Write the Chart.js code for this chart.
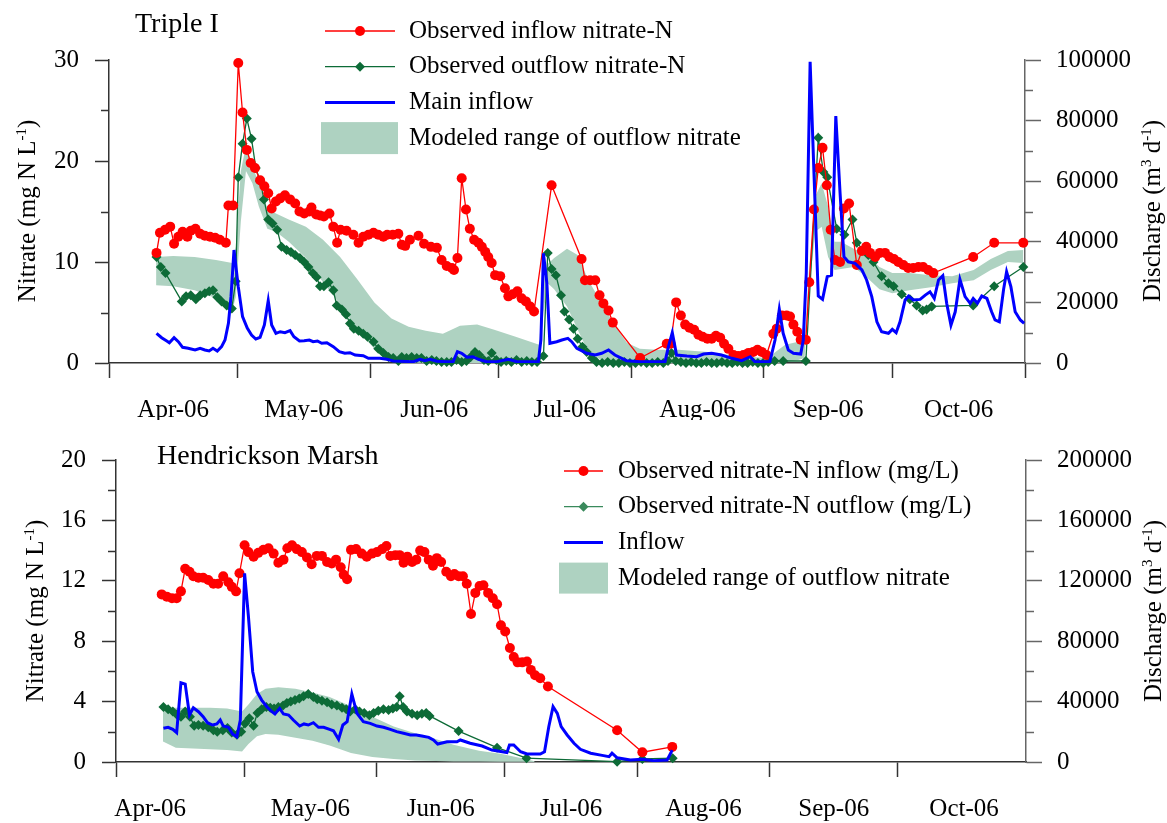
<!DOCTYPE html>
<html lang="en">
<head>
<meta charset="UTF-8">
<title>Nitrate and discharge</title>
<script src="https://cdn.jsdelivr.net/npm/chart.js"></script>
<style>
  body { margin: 0; background: #fff; }
  .panel { position: absolute; left: 0; }
</style>
</head>
<body>
<div class="panel" style="top:0"><canvas id="topChart" width="1167" height="420"></canvas></div>
<div class="panel" style="top:420px"><canvas id="bottomChart" width="1167" height="403"></canvas></div>
<script>
// days counted from 1 Apr 2006
const monthStarts = [0, 30, 61, 91, 122, 153, 183, 214];
const monthLabels = ['Apr-06', 'May-06', 'Jun-06', 'Jul-06', 'Aug-06', 'Sep-06', 'Oct-06'];
const topLabelDays = [15, 45.5, 76, 106.5, 137.5, 168, 198.5];
const bottomLabelDays = [8, 45.5, 76, 106.5, 137.5, 168, 198.5];

// ---- Triple I ----
const tInDays = [11.1,11.9,13.1,14.3,15.2,16.2,17.2,18.3,19.1,20.2,21.3,22.4,23.6,24.8,25.9,27.3,27.9,29.0,30.2,31.2,32.2,33.1,34.1,35.3,36.3,37.2,38.0,39.0,40.0,41.1,42.3,43.5,44.5,45.6,46.8,47.3,48.4,49.3,50.2,51.5,52.4,53.3,54.1,55.5,57.1,58.3,59.4,60.6,61.8,62.9,64.1,65.0,66.3,67.6,68.4,69.2,70.3,72.3,73.6,75.2,76.6,77.7,78.9,80.1,80.6,81.4,82.4,83.4,84.3,85.3,86.3,87.1,87.9,88.6,89.4,90.2,91.4,92.5,93.3,94.3,95.4,96.4,97.4,98.4,99.3,103.4,110.4,111.2,112.4,113.6,114.6,115.5,116.7,117.7,124.1,130.3,131.2,132.5,133.6,134.6,135.6,136.7,137.7,138.7,139.8,140.8,141.8,142.8,143.7,144.7,145.9,147.0,148.2,149.4,150.5,151.5,152.5,153.6,155.2,156.0,157.2,158.3,159.1,159.9,160.8,161.6,162.8,163.6,164.7,165.7,166.7,167.7,168.6,169.6,170.8,171.7,172.9,174.7,175.9,176.9,177.8,179.0,180.1,181.3,182.3,183.4,184.4,185.6,186.7,187.9,189.1,190.2,191.4,192.6,201.9,206.8,213.6];
const tInNO3 = [10.9,12.9,13.2,13.5,11.8,12.5,13.0,12.5,13.1,13.3,12.8,12.6,12.5,12.4,12.2,11.9,15.6,15.6,29.7,24.8,21.1,19.8,19.3,18.1,17.5,16.8,15.3,16.0,16.3,16.6,16.2,15.8,15.0,14.8,15.0,15.4,14.7,14.6,14.5,14.8,13.5,11.9,13.2,13.1,12.7,11.9,12.5,12.7,12.9,12.7,12.5,12.7,12.7,12.8,11.7,11.6,12.2,12.6,11.8,11.5,11.4,10.2,9.6,9.4,9.2,10.4,18.3,15.2,13.3,12.2,11.9,11.5,11.0,10.5,9.9,8.7,8.6,7.4,6.6,6.8,7.1,6.4,6.1,5.6,5.1,17.6,10.3,8.2,8.2,8.2,6.7,5.9,5.2,4.0,0.5,1.9,1.9,6.0,4.7,3.8,3.5,3.3,2.8,2.6,2.4,2.4,2.7,2.5,1.9,1.4,0.8,0.7,0.8,1.0,1.1,1.3,1.1,0.8,2.9,3.4,4.7,4.7,4.6,3.8,3.1,2.3,2.3,8.0,15.2,19.3,21.3,17.6,13.2,10.2,10.0,15.3,15.8,9.7,11.1,11.5,10.9,10.5,10.9,10.9,10.5,10.3,10.0,9.7,9.4,9.4,9.5,9.5,9.2,8.9,10.5,11.9,11.9];

const tOutDays = [11.1,12.1,13.2,17.0,18.0,19.1,20.3,21.3,22.4,23.4,24.3,25.3,26.3,27.5,28.7,29.6,30.2,31.2,32.2,33.3,34.3,35.3,36.2,37.2,38.2,39.3,40.3,41.5,42.5,43.5,44.6,45.6,46.6,47.6,48.5,49.3,50.2,51.3,52.4,53.2,54.4,55.4,56.3,57.2,58.3,59.4,60.4,61.8,62.9,64.1,65.3,66.4,67.6,68.4,69.5,70.7,71.9,73.0,74.2,75.4,76.5,77.7,78.9,80.0,81.2,82.4,83.5,84.5,85.5,86.5,87.6,88.6,89.4,90.5,91.6,92.8,94.0,95.2,96.4,97.6,98.8,100.0,101.5,102.5,103.4,104.4,105.6,106.4,107.5,108.5,109.5,110.6,111.6,112.8,113.9,115.2,116.5,117.8,119.1,120.4,121.7,123.0,124.3,125.6,126.9,128.2,129.5,130.6,131.4,132.4,133.6,134.8,136.0,137.2,138.4,139.6,140.8,142.0,143.2,144.4,145.6,146.8,148.0,149.2,150.4,151.6,152.8,154.0,155.5,157.5,162.8,165.7,166.9,167.8,170.0,171.8,173.7,174.7,176.2,177.4,178.6,180.5,182.1,183.3,185.2,187.1,188.7,190.1,191.0,192.2,201.9,206.8,213.6];
const tOutNO3 = [10.5,9.5,8.9,6.1,6.6,6.7,6.3,6.7,6.9,7.1,7.2,6.5,6.1,5.7,5.4,8.1,18.4,21.7,24.2,22.2,19.3,18.0,16.2,14.2,13.8,13.2,11.5,11.2,11.0,10.7,10.4,10.0,9.5,8.9,8.5,7.6,7.6,8.0,7.2,5.7,5.3,4.8,3.9,3.4,3.2,2.9,2.6,2.1,1.4,1.0,0.6,0.5,0.2,0.6,0.5,0.6,0.5,0.5,0.2,0.3,0.2,0.1,0.1,0.1,0.3,0.1,0.2,0.6,1.1,0.8,0.3,0.2,1.0,0.3,0.1,0.2,0.1,0.3,0.1,0.2,0.1,0.1,0.7,10.9,9.3,8.7,6.7,5.1,4.3,3.4,2.4,1.6,1.1,0.5,0.1,0.0,0.1,0.0,0.0,0.1,0.0,0.0,0.1,0.0,0.0,0.1,0.0,0.2,1.0,0.2,0.1,0.0,0.1,0.0,0.0,0.1,0.0,0.0,0.1,0.0,0.0,0.1,0.0,0.0,0.1,0.0,0.0,0.1,0.2,0.2,0.2,22.3,18.9,18.4,13.3,12.7,14.2,11.9,11.2,10.7,10.0,8.6,7.9,7.6,6.8,6.3,5.7,5.2,5.3,5.6,5.7,7.6,9.5];

const tFlowDays = [11.1,12.3,13.5,14.1,15.2,16.2,17.2,18.5,20.1,21.3,22.4,23.4,24.3,25.3,26.3,27.1,27.9,28.5,29.2,30.2,31.2,32.3,33.3,34.3,35.3,36.3,37.2,38.0,39.0,40.0,41.1,42.3,43.2,44.5,45.6,46.8,47.7,48.7,49.7,50.9,52.4,53.8,55.1,56.3,57.5,59.4,60.6,63.3,64.9,66.4,71.1,72.7,73.8,75.0,76.6,78.9,80.4,81.4,82.4,83.6,85.0,86.3,88.2,90.6,93.3,95.3,100.3,100.9,101.5,102.3,103.0,104.6,105.8,107.2,108.1,109.3,110.4,111.6,113.6,115.1,116.7,118.2,120.9,124.1,127.2,129.9,130.7,131.6,132.6,135.0,137.3,138.9,140.8,143.1,145.5,147.8,149.8,150.9,154.4,155.6,156.6,157.5,158.7,159.9,161.6,162.2,162.9,163.8,164.7,165.7,166.7,167.8,168.8,169.8,170.8,171.7,172.7,174.3,175.9,177.0,178.2,179.4,180.5,182.1,183.0,183.9,184.8,186.0,186.8,187.9,189.5,190.7,191.8,192.8,193.8,194.8,195.7,196.7,197.7,198.8,200.0,201.2,201.9,202.9,203.9,205.1,206.2,207.0,208.0,209.0,209.7,210.7,211.7,212.9,213.8];
const tFlow = [9800,8350,7260,6700,8350,7030,5180,4850,4290,4850,4290,3960,4850,3960,5400,7590,13100,21900,37300,25200,15300,11500,9240,7920,8480,12540,20560,12540,9800,10330,10000,10660,8680,7260,7360,7590,7030,7260,6500,6700,5380,3730,3200,3400,2640,2420,1550,1550,1220,660,430,1220,760,1220,600,430,430,3730,3200,1880,2080,1220,430,430,1220,430,430,7590,36200,26300,6500,7030,7590,8150,7030,4850,4060,3200,2640,3200,4290,2640,760,430,430,430,5400,10000,2640,2310,2080,2970,3200,2640,1550,760,2080,430,430,7590,17700,9800,4290,3200,2970,7590,29600,99400,62600,22100,21000,28500,29000,81500,56000,35100,33400,32900,30700,27400,21900,13600,10300,9800,11100,10000,13600,20800,22100,20800,21000,22400,23500,21300,27400,28800,19700,12500,16900,27600,21900,19700,21300,19700,22100,21300,16900,14200,13600,24300,30100,25200,16900,14200,13100];

const tBandDays = [11,15,20,25,28.8,29.6,30.8,32,33.5,35,37,39,42,46,50,54,58,62,66,70,74,78,82,86,90,95,100.5,101.5,102.5,104,107,109.5,112,115,118,121,124,128,133,140,145,150,154,156,158,161,162.5,163.5,165,166.5,168,169.5,171,174,177,180,183,187,192,197,202,206,210,213.6];
const tBandLow = [7.7,7.6,7.2,6.4,5.2,6.5,14,19,17.8,15.5,13.3,13,12,10.4,8,5.8,3.3,1.4,0.3,0.05,0,0,0,0,0,0,0,5,7.9,7.3,5.6,3.3,1.1,0.3,0.05,0,0,0,0,0,0,0,0,0,0.1,0.3,0.5,7,13,13.5,10.5,9.2,9.3,9.5,8.5,7.3,6.9,7.2,7.5,7.9,8.2,9.2,10,9.9];
const tBandHigh = [10.5,10.6,10.5,10.2,9.9,11.5,19,21.5,19.5,17.8,15.3,14.8,14.2,13.5,12.2,10.5,8.3,6,4.4,3.6,3.2,2.9,3.7,3.8,3.3,2.6,1.8,8,9.8,10.4,11.3,10.7,8.2,6,3.8,2,1.4,1.3,1.3,1.1,0.8,0.6,0.5,1.2,1.8,2.1,2.2,9,16.5,17.8,15.5,12,12,11.3,10.7,9.5,8.9,8.9,8.7,8.6,9.2,10.3,11.1,11.2];

// ---- Hendrickson Marsh ----
const bInDays = [10.7,11.9,13.1,14.2,15.2,16.2,17.2,18.1,19.3,20.4,21.6,22.8,23.9,25.1,26.3,27.1,28.1,28.9,30.1,31.0,32.2,33.3,34.5,35.7,36.9,38.0,39.2,40.1,41.2,42.3,43.5,44.7,45.8,47.0,48.2,49.4,50.5,51.5,52.6,53.3,54.1,55.0,56.2,57.5,58.7,59.9,61.1,62.3,63.3,64.2,65.4,66.4,67.3,68.2,69.3,70.3,71.2,72.2,73.2,74.2,75.1,76.1,77.3,78.4,79.2,80.2,81.2,82.1,83.1,84.1,85.1,86.0,87.1,88.2,89.2,90.1,91.1,92.2,93.1,94.0,95.1,96.2,97.1,98.1,99.3,101.1,117.3,123.2,130.2];
const bInNO3 = [11.1,10.95,10.85,10.85,11.3,12.8,12.6,12.3,12.2,12.2,12.05,11.8,11.8,12.3,11.9,11.6,11.3,12.5,14.35,13.9,13.6,13.85,14.05,14.15,13.8,13.2,13.4,14.15,14.35,14.1,13.9,13.55,13.1,13.65,13.65,13.25,13.15,13.4,12.9,12.4,12.1,14.05,14.1,13.8,13.6,13.8,13.9,14.1,14.3,13.65,13.7,13.7,13.2,13.6,13.25,13.4,14.0,13.9,13.4,13.0,13.5,13.25,12.6,12.3,12.45,12.3,12.3,11.8,9.8,11.2,11.65,11.7,11.2,10.85,10.45,9.05,8.65,7.55,6.95,6.6,6.6,6.65,6.1,5.75,5.55,5.0,2.1,0.65,1.0];

const bOutDays = [11.1,12.2,13.3,14.2,15.2,16.2,17.3,18.3,19.3,20.4,21.6,22.8,23.7,25.0,26.1,27.1,28.3,29.3,30.2,31.2,32.2,33.1,34.1,35.2,36.1,37.0,38.0,39.1,40.0,40.9,41.9,42.9,43.9,45.0,46.2,47.1,48.2,49.4,50.5,51.7,52.9,53.9,54.8,56.0,57.0,58.1,59.3,60.3,61.4,62.6,63.8,64.8,65.7,66.4,67.2,68.1,69.3,70.5,71.6,72.6,73.4,80.2,89.2,96.1,117.3,123.2,130.3];
const bOutNO3 = [3.65,3.5,3.35,3.15,3.0,3.35,3.0,2.4,2.45,2.4,2.3,2.1,2.0,2.1,2.25,1.95,1.8,2.0,2.55,2.9,2.4,3.25,3.5,3.65,3.6,3.55,3.65,3.75,3.9,4.0,4.1,4.2,4.35,4.5,4.3,4.15,4.05,3.95,3.8,3.75,3.6,3.5,3.35,3.5,3.35,3.25,3.1,3.25,3.4,3.5,3.45,3.55,3.65,4.35,3.65,3.35,3.2,3.1,3.2,3.25,3.05,2.05,0.95,0.25,0.02,0.2,0.25];

const bFlowDays = [11.1,12.2,13.3,14.2,15.2,16.2,17.2,18.1,19.3,20.4,21.4,22.6,23.6,24.4,25.1,26.3,27.3,28.3,29.1,30.1,31.0,32.0,33.0,34.1,35.3,36.5,37.2,38.3,39.2,40.4,41.5,43.0,44.0,45.0,46.2,47.4,48.6,50.0,50.9,52.1,53.1,54.1,55.2,56.4,57.9,59.5,61.1,62.6,64.2,65.7,67.3,68.9,70.3,71.6,73.2,74.3,75.3,77.5,79.8,80.6,82.9,85.7,88.0,90.4,91.5,92.1,93.1,94.7,96.2,98.2,99.3,100.3,101.3,102.3,103.3,104.2,105.6,107.2,108.7,111.1,113.8,115.4,116.1,117.3,120.4,123.2,125.9,129.0,130.2];
const bFlow = [22300,23000,21600,19400,52500,51600,31100,35900,33300,30000,26000,24500,25200,27800,23800,23000,18500,16700,27800,124900,96200,59800,46500,41000,36600,33300,31800,35500,31800,31100,27800,23800,25200,24500,26000,23000,23000,21600,20700,15000,24500,26700,45000,32200,26700,25600,23800,23000,21600,20100,19000,17900,17900,17200,16300,14600,11900,13400,13400,14600,12400,10600,7900,6800,6200,11300,11300,6800,5300,5300,5300,6800,23400,36600,32200,23400,17900,12400,8400,5800,4400,3500,5800,2800,1300,1800,900,1300,7900];

const bBandDays = [11,14,18,22,26,29.5,31,33,35,38,42,46,50,55,60,65,70,75,79,85,90,95,98];
const bBandLow = [1.35,0.95,0.9,0.85,0.8,0.7,1.2,1.7,1.85,1.8,1.6,1.4,1.1,0.6,0.33,0.2,0.1,0.06,0.04,0.03,0.02,0.01,0];
const bBandHigh = [3.6,3.6,3.6,3.6,3.55,3.35,3.8,4.5,4.85,4.95,4.85,4.6,4.3,3.7,3.0,2.35,1.9,1.5,1.15,0.75,0.55,0.25,0.05];

const FONT = "'Liberation Serif', 'Times New Roman', serif";
const AXIS = '#333';
const AXIS_R = '#666';
const RED = '#ff0000';
const GREEN = '#0d6b37';
const BLUE = '#0000ff';
const BAND = 'rgb(174,210,193)';

function pts(xs, ys) {
    return xs.map((x, i) => ({ x: x, y: ys[i] }));
}

function drawRich(ctx, parts, cx, cy, size) {
    const base = size + 'px ' + FONT;
    const sup = Math.round(size * 0.6) + 'px ' + FONT;
    let w = 0;
    parts.forEach(p => { ctx.font = p[1] ? sup : base; w += ctx.measureText(p[0]).width; });
    ctx.save();
    ctx.translate(cx, cy);
    ctx.rotate(-Math.PI / 2);
    ctx.textAlign = 'left';
    ctx.textBaseline = 'alphabetic';
    let x = -w / 2;
    parts.forEach(p => {
        ctx.font = p[1] ? sup : base;
        ctx.fillText(p[0], x, p[1] ? size * 0.33 - size * 0.38 : size * 0.33);
        x += ctx.measureText(p[0]).width;
    });
    ctx.restore();
}

// titles, legend and axis titles
const decor = {
    id: 'decor',
    afterDraw(chart, args, o) {
        const ctx = chart.ctx;
        ctx.save();
        ctx.fillStyle = '#000';
        ctx.textAlign = 'left';
        ctx.textBaseline = 'alphabetic';
        ctx.font = '28px ' + FONT;
        ctx.fillText(o.title, o.titleX, o.titleY);

        const L = o.legend;
        L.items.forEach((it, i) => {
            const y = L.y0 + i * L.dy;
            if (it.box) {
                ctx.fillStyle = it.color;
                ctx.fillRect(L.boxX0, y - L.boxH / 2, L.boxX1 - L.boxX0, L.boxH);
            } else {
                ctx.strokeStyle = it.color;
                ctx.lineWidth = it.width;
                ctx.beginPath();
                ctx.moveTo(L.lineX0, y);
                ctx.lineTo(L.lineX1, y);
                ctx.stroke();
                const cx = (L.lineX0 + L.lineX1) / 2;
                ctx.fillStyle = it.color;
                if (it.marker === 'circle') {
                    ctx.beginPath();
                    ctx.arc(cx, y, 5, 0, Math.PI * 2);
                    ctx.fill();
                } else if (it.marker === 'diamond') {
                    ctx.beginPath();
                    ctx.moveTo(cx, y - 5); ctx.lineTo(cx + 5, y); ctx.lineTo(cx, y + 5); ctx.lineTo(cx - 5, y);
                    ctx.closePath();
                    ctx.fill();
                }
            }
            ctx.fillStyle = '#000';
            ctx.font = '25px ' + FONT;
            ctx.textBaseline = 'middle';
            ctx.fillText(it.text, L.textX, y);
        });

        ctx.fillStyle = '#000';
        drawRich(ctx, [['Nitrate (mg N L', 0], ['-1', 1], [')', 0]], o.leftTitleX, o.titleMidY, 25);
        drawRich(ctx, [['Discharge (m', 0], ['3', 1], [' d', 0], ['-1', 1], [')', 0]], o.rightTitleX, o.titleMidY, 25);
        ctx.restore();
    }
};

// short unlabeled ticks between the labeled ones
const minorTicks = {
    id: 'minorTicks',
    afterDraw(chart, args, o) {
        const ctx = chart.ctx;
        ctx.save();
        ctx.lineWidth = 1.5;
        o.list.forEach(m => {
            const s = chart.scales[m.axis];
            ctx.strokeStyle = m.color;
            m.values.forEach(v => {
                const y = Math.round(s.getPixelForValue(v)) + 0.5;
                ctx.beginPath();
                if (s.position === 'left') { ctx.moveTo(s.right - 8, y); ctx.lineTo(s.right, y); }
                else { ctx.moveTo(s.left, y); ctx.lineTo(s.left + 8, y); }
                ctx.stroke();
            });
        });
        ctx.restore();
    }
};

function makeChart(id, c) {
    const tickFont = { family: FONT, size: 25 };
    return new Chart(document.getElementById(id), {
        type: 'line',
        data: {
            datasets: [
                { label: 'low', data: pts(c.bandDays, c.bandLow), yAxisID: 'yL', borderColor: 'rgba(0,0,0,0)', borderWidth: 0, pointRadius: 0, fill: false, order: 9 },
                { label: c.names[3], data: pts(c.bandDays, c.bandHigh), yAxisID: 'yL', borderColor: 'rgba(0,0,0,0)', borderWidth: 0, pointRadius: 0, fill: '-1', backgroundColor: BAND, order: 8 },
                { label: c.names[1], data: pts(c.outDays, c.outVals), yAxisID: 'yL', borderColor: GREEN, borderWidth: 1.3, pointStyle: 'rectRot', pointRadius: 5, pointBackgroundColor: GREEN, pointBorderWidth: 0, clip: false, order: 3 },
                { label: c.names[0], data: pts(c.inDays, c.inVals), yAxisID: 'yL', borderColor: RED, borderWidth: 1.3, pointStyle: 'circle', pointRadius: 5, pointBackgroundColor: RED, pointBorderWidth: 0, clip: false, order: 2 },
                { label: c.names[2], data: pts(c.flowDays, c.flowVals), yAxisID: 'yR', borderColor: BLUE, borderWidth: 3, pointRadius: 0, order: 1 }
            ]
        },
        options: {
            responsive: false,
            animation: false,
            events: [],
            layout: { padding: { top: c.padTop, left: 0, right: 0, bottom: 0 } },
            scales: {
                x: {
                    type: 'linear', min: 0, max: c.xMax,
                    afterBuildTicks: s => {
                        const vals = monthStarts.filter(d => d <= c.xMax).concat(c.labelDays);
                        s.ticks = vals.sort((a, b) => a - b).map(v => ({ value: v }));
                    },
                    afterFit: s => { s.height = c.xHeight; },
                    ticks: {
                        autoSkip: false, maxRotation: 0, padding: 17, color: '#000', font: tickFont,
                        callback: v => { const i = c.labelDays.indexOf(v); return i < 0 ? '' : monthLabels[i]; }
                    },
                    grid: {
                        drawOnChartArea: false, tickLength: 15, tickWidth: 1.5,
                        tickColor: ctx => (ctx.tick && monthStarts.includes(ctx.tick.value)) ? AXIS : 'rgba(0,0,0,0)'
                    },
                    border: { color: AXIS, width: 1.5 }
                },
                yL: {
                    position: 'left', min: 0, max: c.leftMax,
                    afterBuildTicks: s => { s.ticks = c.leftTicks.map(v => ({ value: v })); },
                    afterFit: s => { s.width = c.leftWidth; },
                    ticks: { padding: 16, color: '#000', font: tickFont },
                    grid: { drawOnChartArea: false, tickLength: 14, tickWidth: 1.5, tickColor: AXIS },
                    border: { color: AXIS, width: 1.5 }
                },
                yR: {
                    position: 'right', min: 0, max: c.rightMax,
                    afterBuildTicks: s => { s.ticks = c.rightTicks.map(v => ({ value: v })); },
                    afterFit: s => { s.width = c.rightWidth; },
                    ticks: { padding: 15, color: '#000', font: tickFont, callback: v => String(v) },
                    grid: { drawOnChartArea: false, tickLength: 16, tickWidth: 1.5, tickColor: AXIS_R },
                    border: { color: AXIS_R, width: 1.5 }
                }
            },
            plugins: {
                legend: { display: false },
                tooltip: { enabled: false },
                minorTicks: {
                    list: [
                        { axis: 'yL', values: c.leftMinor, color: AXIS },
                        { axis: 'yR', values: c.rightMinor, color: AXIS_R }
                    ]
                },
                decor: c.decor
            }
        },
        plugins: [minorTicks, decor]
    });
}

makeChart('topChart', {
    names: ['Observed inflow nitrate-N', 'Observed outflow nitrate-N', 'Main inflow', 'Modeled range of outflow nitrate'],
    inDays: tInDays, inVals: tInNO3,
    outDays: tOutDays, outVals: tOutNO3,
    flowDays: tFlowDays, flowVals: tFlow,
    bandDays: tBandDays, bandLow: tBandLow, bandHigh: tBandHigh,
    xMax: 214, labelDays: topLabelDays,
    leftMax: 30, leftTicks: [0, 10, 20, 30], leftMinor: [5, 15, 25],
    rightMax: 100000, rightTicks: [0, 20000, 40000, 60000, 80000, 100000], rightMinor: [10000, 30000, 50000, 70000, 90000],
    padTop: 60, xHeight: 57, leftWidth: 109, rightWidth: 142,
    decor: {
        title: 'Triple I', titleX: 135, titleY: 32,
        leftTitleX: 27, rightTitleX: 1152, titleMidY: 211,
        legend: {
            y0: 31, dy: 35.7, lineX0: 325, lineX1: 395, boxX0: 321, boxX1: 398, boxH: 32, textX: 409,
            items: [
                { text: 'Observed inflow nitrate-N', color: RED, width: 1.3, marker: 'circle' },
                { text: 'Observed outflow nitrate-N', color: GREEN, width: 1.3, marker: 'diamond' },
                { text: 'Main inflow', color: BLUE, width: 3 },
                { text: 'Modeled range of outflow nitrate', color: BAND, box: true }
            ]
        }
    }
});

makeChart('bottomChart', {
    names: ['Observed nitrate-N inflow (mg/L)', 'Observed nitrate-N outflow (mg/L)', 'Inflow', 'Modeled range of outflow nitrate'],
    inDays: bInDays, inVals: bInNO3,
    outDays: bOutDays, outVals: bOutNO3,
    flowDays: bFlowDays, flowVals: bFlow,
    bandDays: bBandDays, bandLow: bBandLow, bandHigh: bBandHigh,
    xMax: 213, labelDays: bottomLabelDays,
    leftMax: 20, leftTicks: [0, 4, 8, 12, 16, 20], leftMinor: [2, 6, 10, 14, 18],
    rightMax: 200000, rightTicks: [0, 40000, 80000, 120000, 160000, 200000], rightMinor: [20000, 60000, 100000, 140000, 180000],
    padTop: 40, xHeight: 61, leftWidth: 116, rightWidth: 141,
    decor: {
        title: 'Hendrickson Marsh', titleX: 157, titleY: 44,
        leftTitleX: 35, rightTitleX: 1153, titleMidY: 191,
        legend: {
            y0: 51, dy: 35.7, lineX0: 564, lineX1: 603, boxX0: 559, boxX1: 608, boxH: 31, textX: 618,
            items: [
                { text: 'Observed nitrate-N inflow (mg/L)', color: RED, width: 1.3, marker: 'circle' },
                { text: 'Observed nitrate-N outflow (mg/L)', color: '#3a8a5c', width: 1.3, marker: 'diamond' },
                { text: 'Inflow', color: BLUE, width: 3 },
                { text: 'Modeled range of outflow nitrate', color: BAND, box: true }
            ]
        }
    }
});
</script>
</body>
</html>
